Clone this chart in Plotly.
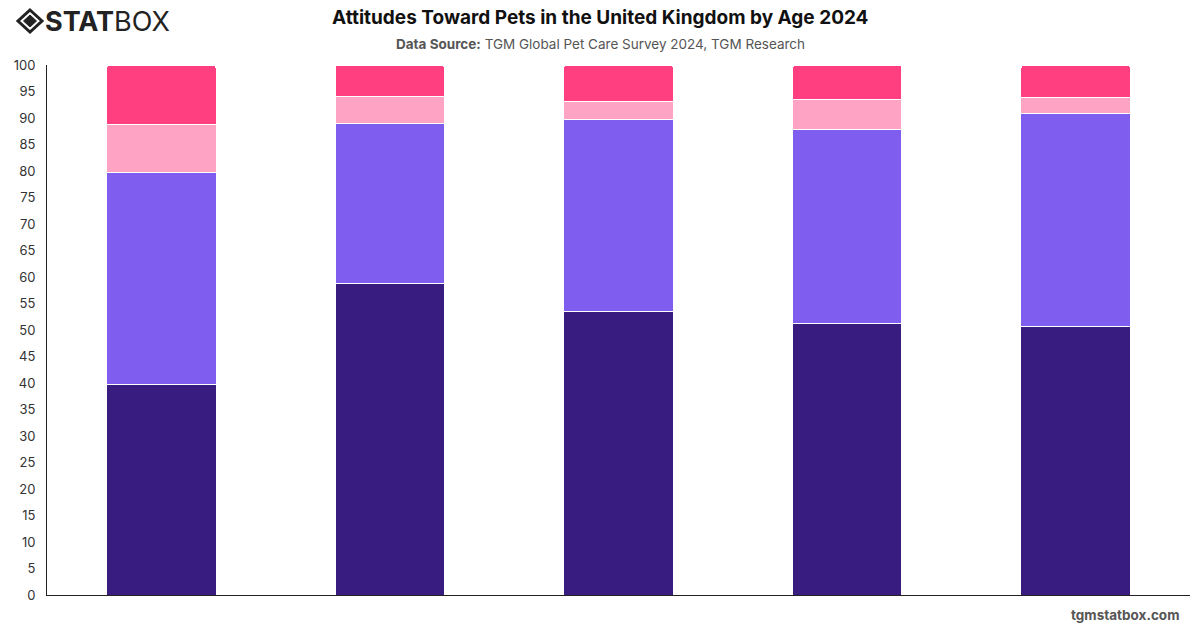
import plotly.graph_objects as go

age_groups = ["18-24", "25-34", "35-44", "45-54", "55+"]
series_names = ["Strongly agree", "Somewhat agree", "Neutral", "Disagree"]
strongly_agree = [39.7, 58.7, 53.4, 51.3, 50.6]
somewhat_agree = [40.0, 30.2, 36.4, 36.6, 40.3]
neutral = [9.1, 5.1, 3.3, 5.6, 3.0]
disagree = [11.2, 6.0, 6.9, 6.5, 6.1]
y_ticks = list(range(0, 101, 5))

colors = ["#381C80", "#7F5DEE", "#FFA3C5", "#FF3F80"]
series_values = [strongly_agree, somewhat_agree, neutral, disagree]

W, H = 1200, 628
ML, MR, MT, MB = 47, 10, 65, 33
ph = H - MT - MB
pw = W - ML - MR


def py(pix):
    return (H - MB - pix) / ph


def px(pix):
    return (pix - ML) / pw


fig = go.Figure()
for name, vals, col in zip(series_names, series_values, colors):
    fig.add_trace(go.Bar(
        x=age_groups, y=vals, name=name,
        marker=dict(color=col, line=dict(color="white", width=1)),
        hovertemplate="%{x}: %{y}%<extra>" + name + "</extra>",
    ))

annotations = [
    dict(text="<b>Attitudes Toward Pets in the United Kingdom by Age 2024</b>",
         x=px(600), xref="paper", xanchor="center", y=py(17), yref="paper", yanchor="middle",
         showarrow=False, font=dict(size=19, color="#111")),
    dict(text="<b>Data Source:</b> TGM Global Pet Care Survey 2024, TGM Research",
         x=px(600), xref="paper", xanchor="center", y=py(44), yref="paper", yanchor="middle",
         showarrow=False, font=dict(size=13.5, color="#555")),
    dict(text="<b>tgmstatbox.com</b>", x=px(1181), xref="paper", xanchor="right",
         y=py(615), yref="paper", yanchor="middle",
         showarrow=False, font=dict(size=13.5, color="#555")),
    dict(text="<b>STAT</b>BOX", x=px(43), xref="paper", xanchor="left",
         y=py(21), yref="paper", yanchor="middle",
         showarrow=False, font=dict(size=27, color="#222", family="Inter, sans-serif")),
]

fig.update_layout(
    barmode="stack",
    bargap=0.52,
    barcornerradius=4,
    width=W, height=H,
    margin=dict(l=ML, r=MR, t=MT, b=MB),
    paper_bgcolor="white", plot_bgcolor="white",
    showlegend=False,
    font=dict(family="Inter, Roboto, sans-serif", color="#333"),
    xaxis=dict(showticklabels=False, showline=True, linecolor="#222", linewidth=1,
               ticks="", showgrid=False, zeroline=False),
    yaxis=dict(range=[0, 100], tickvals=y_ticks, showline=True, linecolor="#222", linewidth=1,
               showgrid=False, zeroline=False, ticks="", ticklabelstandoff=8,
               tickfont=dict(size=13, color="#333")),
    annotations=annotations,
)

# logo diamond icon
cx, cy = 30, 21


def pth(points):
    return "M " + " L ".join(f"{px(a)},{py(b)}" for a, b in points) + " Z"


fig.add_shape(type="path", xref="paper", yref="paper",
              path=pth([(cx, cy - 11), (cx + 12, cy), (cx, cy + 11), (cx - 12, cy)]),
              line=dict(color="#222", width=3), fillcolor="rgba(0,0,0,0)")
fig.add_shape(type="path", xref="paper", yref="paper",
              path=pth([(cx, cy - 6), (cx + 6.5, cy), (cx, cy + 6), (cx - 6.5, cy)]),
              line=dict(color="#222", width=1), fillcolor="#222")

fig.write_html("out.html")
